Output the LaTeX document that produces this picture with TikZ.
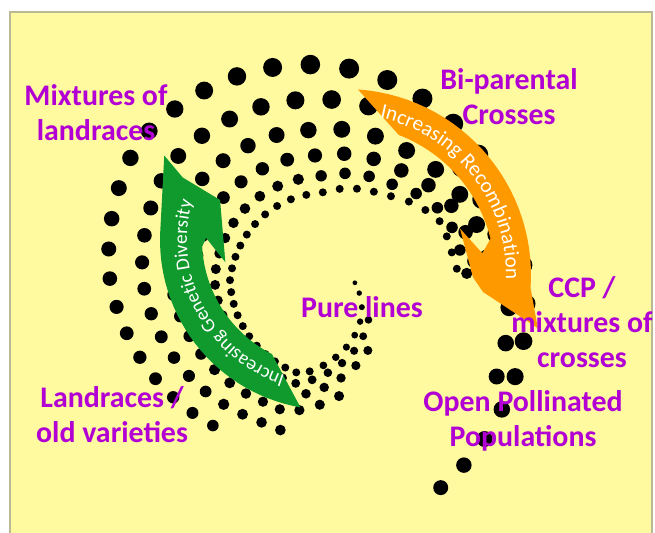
\documentclass[tikz,border=0pt]{standalone}
\usepackage{fontspec}
\newfontfamily\lblfont{Carlito}
\usetikzlibrary{decorations.text}

\definecolor{bgyellow}{RGB}{255,250,160}
\definecolor{framegray}{RGB}{185,185,150}
\definecolor{lblpurple}{RGB}{178,0,212}
\definecolor{arrgreen}{RGB}{16,154,46}
\definecolor{arrorange}{RGB}{255,153,0}

\newcommand{\arrtext}{\lblfont\fontsize{11}{13}\selectfont\color{white}}
\newcommand{\arrtextb}{\lblfont\fontsize{12}{14}\selectfont\color{white}}

\begin{document}
\begin{tikzpicture}[x=0.02cm, y=-0.02cm,
  lbl/.style={text=lblpurple, font=\lblfont\bfseries\fontsize{17}{20}\selectfont,
    align=center, inner sep=0pt},
  dot/.style={fill=black},
  grnarr/.style={fill=arrgreen},
  orgarr/.style={fill=arrorange},
  arrtxt/.style={decorate, decoration={text along path, text align=center, text={#1}}}
  ]
  \useasboundingbox (0,0) rectangle (655,533);
  \fill[white] (0,0) rectangle (655,533);
  \filldraw[fill=bgyellow, draw=framegray, line width=0.6pt] (10,12) rectangle (652,545);

  % spiral of dots: row / first angle / last angle
  \begin{scope}[shift={(335,280)}]
    \foreach \k/\fs/\fe in {0/8/362, 1/50/362, 2/65/362, 3/88/362, 4/110/392, 5/130/430} {
      \pgfmathsetmacro{\f}{\fs}
      \pgfmathsetmacro{\hk}{0.55*\k/5+0.45*(\k/5)*(\k/5)}
      \pgfmathsetmacro{\hs}{(\k/5)*(1.6-0.6*\k/5)}
      \loop
        \pgfmathsetmacro{\ri}{\f<110 ? 20+80*((\f-7)/103)^1.5 : (\f<180 ? 100+0.0714*(\f-110) : (\f<260 ? 105-0.2125*(\f-180) : (\f<300 ? 88+0.25*(\f-260) : (\f<330 ? 98+0.733*(\f-300) : 120+0.5*max(\f-350,0)))))}
        \pgfmathsetmacro{\ro}{\f<120 ? \ri+82 : (\f<180 ? 183+0.7*(\f-120) : (\f<215 ? 225+0.43*(\f-180) : (\f<330 ? 240-0.478*(\f-215) : 185+48*(max(\f-335,0.001)/88)^1.8)))}
        \pgfmathsetmacro{\r}{\ri+(\ro-\ri)*\hk}
        \pgfmathsetmacro{\din}{min(8,4.5+\f/30)}
        \pgfmathsetmacro{\dd}{min(20,max(11,11+(\f-120)/16.7))-5*max(\f-340,0)/83}
        \pgfmathsetmacro{\d}{\din+(\dd-\din)*\hs}
        \fill[dot] (\f:\r) circle[radius=\d*0.01cm];
        \pgfmathsetmacro{\t}{min(1,max(0,(\f-190)/60))}
        \pgfmathsetmacro{\f}{\f+57.3*(1.5+0.1*\k+0.6*\t*(1-\k/5))*\d/\r}
      \ifdim\f pt<\fe pt
      \repeat
    }
  \end{scope}

  % green arrow
  \begin{scope}[shift={(330,240)}]
    \fill[grnarr] (100:170) -- plot[domain=100:182, samples=30] (\x:170)
      -- (207:186) -- (203:160) -- (200:117) -- (168:107) -- (181:124)
      -- plot[domain=177:117, samples=30] (\x:128) -- cycle;
    \path[arrtxt={|\arrtext|Increasing Genetic Diversity}]
      plot[domain=102:202, samples=50] (\x:143);
  \end{scope}

  % orange arrow
  \begin{scope}[shift={(345,275)}]
    \fill[orgarr] (-86:186) -- plot[domain=-86:4, samples=30] (\x:186)
      -- (15.4:200) -- (7:139) -- (1:128) -- (-22:124) -- (-9:139)
      -- plot[domain=-14:-69, samples=30] (\x:150) -- cycle;
    \path[arrtxt={|\arrtextb|Increasing Recombination}]
      plot[domain=-86:10, samples=50] (\x:161);
  \end{scope}

  % labels
  \node[lbl] (mixland) at (96,113) {Mixtures of\\landraces};
  \node[lbl] (biparent) at (509,97) {Bi-parental\\Crosses};
  \node[lbl] (ccpmix) at (582,322) {CCP /\\mixtures of\\crosses};
  \node[lbl] (openpol) at (523,421) {Open Pollinated\\Populations};
  \node[lbl] (landold) at (112,415) {Landraces /\\old varieties};
  \node[lbl] (purelines) at (362,307) {Pure lines};
\end{tikzpicture}
\end{document}
